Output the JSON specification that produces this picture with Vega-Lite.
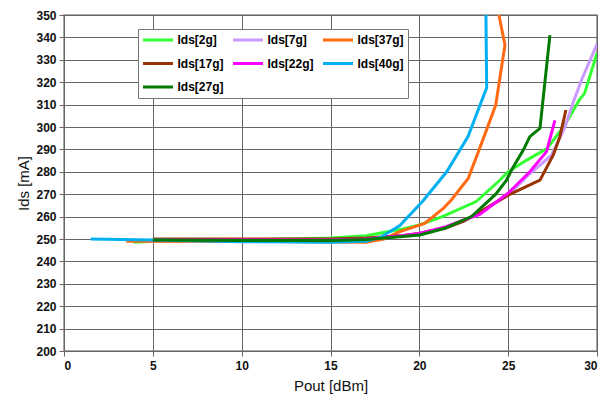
{
  "$schema": "https://vega.github.io/schema/vega-lite/v6.json",
  "width": 533,
  "height": 336,
  "autosize": {"type": "none"},
  "padding": {"left": 64, "top": 15, "right": 16, "bottom": 55},
  "background": "white",
  "config": {
    "font": "Liberation Sans",
    "view": {"stroke": "#8c8c8c", "strokeWidth": 1.5},
    "axis": {
      "gridColor": "#666666",
      "gridWidth": 1,
      "gridOpacity": 1,
      "domainColor": "#666666",
      "tickColor": "#666666",
      "tickSize": 5,
      "labelFont": "Liberation Sans",
      "labelFontWeight": "bold",
      "labelFontSize": 12,
      "labelColor": "#111",
      "titleFont": "Liberation Sans",
      "titleFontWeight": "normal",
      "titleFontSize": 15,
      "titleColor": "#111"
    }
  },
  "data": {
    "values": [
      {"s": "Ids[2g]", "i": 0, "x": 3.9, "y": 248.5},
      {"s": "Ids[2g]", "i": 1, "x": 5, "y": 249},
      {"s": "Ids[2g]", "i": 2, "x": 10, "y": 249.5},
      {"s": "Ids[2g]", "i": 3, "x": 15, "y": 250.5},
      {"s": "Ids[2g]", "i": 4, "x": 17, "y": 251.5},
      {"s": "Ids[2g]", "i": 5, "x": 18.9, "y": 254.2},
      {"s": "Ids[2g]", "i": 6, "x": 20, "y": 256.3},
      {"s": "Ids[2g]", "i": 7, "x": 21.3, "y": 260},
      {"s": "Ids[2g]", "i": 8, "x": 23.2, "y": 266.7},
      {"s": "Ids[2g]", "i": 9, "x": 24.5, "y": 276},
      {"s": "Ids[2g]", "i": 10, "x": 25, "y": 280},
      {"s": "Ids[2g]", "i": 11, "x": 26, "y": 285},
      {"s": "Ids[2g]", "i": 12, "x": 27.2, "y": 290.5},
      {"s": "Ids[2g]", "i": 13, "x": 28.2, "y": 301},
      {"s": "Ids[2g]", "i": 14, "x": 29, "y": 312},
      {"s": "Ids[2g]", "i": 15, "x": 29.3, "y": 315},
      {"s": "Ids[2g]", "i": 16, "x": 30, "y": 333},

      {"s": "Ids[7g]", "i": 0, "x": 4.7, "y": 249},
      {"s": "Ids[7g]", "i": 1, "x": 5, "y": 249},
      {"s": "Ids[7g]", "i": 2, "x": 10, "y": 249},
      {"s": "Ids[7g]", "i": 3, "x": 15, "y": 249.3},
      {"s": "Ids[7g]", "i": 4, "x": 17, "y": 250},
      {"s": "Ids[7g]", "i": 5, "x": 19, "y": 251.5},
      {"s": "Ids[7g]", "i": 6, "x": 20, "y": 252.5},
      {"s": "Ids[7g]", "i": 7, "x": 21.5, "y": 255},
      {"s": "Ids[7g]", "i": 8, "x": 22.5, "y": 258},
      {"s": "Ids[7g]", "i": 9, "x": 23.4, "y": 262},
      {"s": "Ids[7g]", "i": 10, "x": 25, "y": 269.6},
      {"s": "Ids[7g]", "i": 11, "x": 26.2, "y": 279},
      {"s": "Ids[7g]", "i": 12, "x": 27.45, "y": 287.5},
      {"s": "Ids[7g]", "i": 13, "x": 28.2, "y": 300},
      {"s": "Ids[7g]", "i": 14, "x": 28.64, "y": 310.6},
      {"s": "Ids[7g]", "i": 15, "x": 29.13, "y": 321},
      {"s": "Ids[7g]", "i": 16, "x": 30, "y": 337},

      {"s": "Ids[37g]", "i": 0, "x": 3.5, "y": 249},
      {"s": "Ids[37g]", "i": 1, "x": 5, "y": 249},
      {"s": "Ids[37g]", "i": 2, "x": 10, "y": 249},
      {"s": "Ids[37g]", "i": 3, "x": 15, "y": 248.7},
      {"s": "Ids[37g]", "i": 4, "x": 17, "y": 248.5},
      {"s": "Ids[37g]", "i": 5, "x": 18, "y": 250},
      {"s": "Ids[37g]", "i": 6, "x": 18.9, "y": 253.3},
      {"s": "Ids[37g]", "i": 7, "x": 20.3, "y": 257},
      {"s": "Ids[37g]", "i": 8, "x": 21.35, "y": 263.7},
      {"s": "Ids[37g]", "i": 9, "x": 21.8, "y": 267.4},
      {"s": "Ids[37g]", "i": 10, "x": 22.75, "y": 277},
      {"s": "Ids[37g]", "i": 11, "x": 23.5, "y": 292.7},
      {"s": "Ids[37g]", "i": 12, "x": 24.3, "y": 309.8},
      {"s": "Ids[37g]", "i": 13, "x": 24.82, "y": 336.6},
      {"s": "Ids[37g]", "i": 14, "x": 24.3, "y": 357},

      {"s": "Ids[17g]", "i": 0, "x": 5, "y": 250},
      {"s": "Ids[17g]", "i": 1, "x": 10, "y": 250},
      {"s": "Ids[17g]", "i": 2, "x": 15, "y": 250},
      {"s": "Ids[17g]", "i": 3, "x": 17, "y": 250.5},
      {"s": "Ids[17g]", "i": 4, "x": 19, "y": 251.5},
      {"s": "Ids[17g]", "i": 5, "x": 20, "y": 252.5},
      {"s": "Ids[17g]", "i": 6, "x": 21.5, "y": 255},
      {"s": "Ids[17g]", "i": 7, "x": 22.5, "y": 258},
      {"s": "Ids[17g]", "i": 8, "x": 23.4, "y": 262},
      {"s": "Ids[17g]", "i": 9, "x": 25, "y": 269.6},
      {"s": "Ids[17g]", "i": 10, "x": 26.79, "y": 276.3},
      {"s": "Ids[17g]", "i": 11, "x": 27.54, "y": 287.5},
      {"s": "Ids[17g]", "i": 12, "x": 27.91, "y": 295.7},
      {"s": "Ids[17g]", "i": 13, "x": 28.25, "y": 307.6},

      {"s": "Ids[22g]", "i": 0, "x": 5, "y": 249.5},
      {"s": "Ids[22g]", "i": 1, "x": 10, "y": 249.5},
      {"s": "Ids[22g]", "i": 2, "x": 15, "y": 249.5},
      {"s": "Ids[22g]", "i": 3, "x": 17, "y": 250},
      {"s": "Ids[22g]", "i": 4, "x": 19, "y": 251.5},
      {"s": "Ids[22g]", "i": 5, "x": 20, "y": 252.5},
      {"s": "Ids[22g]", "i": 6, "x": 21.5, "y": 255.5},
      {"s": "Ids[22g]", "i": 7, "x": 22.5, "y": 258.5},
      {"s": "Ids[22g]", "i": 8, "x": 23.4, "y": 261},
      {"s": "Ids[22g]", "i": 9, "x": 24.99, "y": 270.4},
      {"s": "Ids[22g]", "i": 10, "x": 26.22, "y": 280},
      {"s": "Ids[22g]", "i": 11, "x": 27.16, "y": 289},
      {"s": "Ids[22g]", "i": 12, "x": 27.63, "y": 303},

      {"s": "Ids[40g]", "i": 0, "x": 1.5, "y": 250},
      {"s": "Ids[40g]", "i": 1, "x": 3.2, "y": 249.8},
      {"s": "Ids[40g]", "i": 2, "x": 5, "y": 249.5},
      {"s": "Ids[40g]", "i": 3, "x": 10, "y": 248.8},
      {"s": "Ids[40g]", "i": 4, "x": 15, "y": 248.5},
      {"s": "Ids[40g]", "i": 5, "x": 17, "y": 249},
      {"s": "Ids[40g]", "i": 6, "x": 17.8, "y": 250.7},
      {"s": "Ids[40g]", "i": 7, "x": 18.9, "y": 256},
      {"s": "Ids[40g]", "i": 8, "x": 20.2, "y": 267},
      {"s": "Ids[40g]", "i": 9, "x": 21.54, "y": 280},
      {"s": "Ids[40g]", "i": 10, "x": 22.74, "y": 295.7},
      {"s": "Ids[40g]", "i": 11, "x": 23.79, "y": 317.5},
      {"s": "Ids[40g]", "i": 12, "x": 23.73, "y": 365},

      {"s": "Ids[27g]", "i": 0, "x": 5, "y": 249.5},
      {"s": "Ids[27g]", "i": 1, "x": 10, "y": 249.3},
      {"s": "Ids[27g]", "i": 2, "x": 15, "y": 249.3},
      {"s": "Ids[27g]", "i": 3, "x": 17, "y": 249.8},
      {"s": "Ids[27g]", "i": 4, "x": 18.9, "y": 251},
      {"s": "Ids[27g]", "i": 5, "x": 20.03, "y": 251.8},
      {"s": "Ids[27g]", "i": 6, "x": 21.44, "y": 254.8},
      {"s": "Ids[27g]", "i": 7, "x": 22.94, "y": 260},
      {"s": "Ids[27g]", "i": 8, "x": 24.3, "y": 270},
      {"s": "Ids[27g]", "i": 9, "x": 24.91, "y": 276.3},
      {"s": "Ids[27g]", "i": 10, "x": 25.19, "y": 280.8},
      {"s": "Ids[27g]", "i": 11, "x": 25.85, "y": 289.7},
      {"s": "Ids[27g]", "i": 12, "x": 26.22, "y": 295.7},
      {"s": "Ids[27g]", "i": 13, "x": 26.79, "y": 299.4},
      {"s": "Ids[27g]", "i": 14, "x": 27.35, "y": 341}
    ]
  },
  "mark": {"type": "line", "strokeWidth": 3, "clip": true},
  "encoding": {
    "x": {
      "field": "x", "type": "quantitative",
      "scale": {"domain": [0, 30], "nice": false, "zero": false},
      "axis": {"values": [0, 5, 10, 15, 20, 25, 30], "title": "Pout [dBm]", "titlePadding": 7, "labelPadding": 4}
    },
    "y": {
      "field": "y", "type": "quantitative",
      "scale": {"domain": [200, 350], "nice": false, "zero": false},
      "axis": {"values": [200, 210, 220, 230, 240, 250, 260, 270, 280, 290, 300, 310, 320, 330, 340, 350], "title": "Ids [mA]", "titlePadding": 4, "labelPadding": 3}
    },
    "color": {
      "field": "s", "type": "nominal",
      "scale": {
        "domain": ["Ids[2g]", "Ids[7g]", "Ids[37g]", "Ids[17g]", "Ids[22g]", "Ids[40g]", "Ids[27g]"],
        "range": ["#33ff33", "#cc99ff", "#ff6a13", "#993300", "#ff00ff", "#00b0f0", "#007a00"]
      },
      "legend": {
        "title": null,
        "orient": "none",
        "direction": "horizontal",
        "legendX": 74,
        "legendY": 14,
        "columns": 3,
        "gridAlign": "all",
        "columnPadding": 7,
        "rowPadding": 8.5,
        "padding": 3.5,
        "clipHeight": 15,
        "fillColor": "white",
        "strokeColor": "#777",
        "symbolType": "stroke",
        "symbolSize": 900,
        "symbolStrokeWidth": 3,
        "labelFont": "Liberation Sans",
        "labelFontWeight": "bold",
        "labelFontSize": 12,
        "labelColor": "#000",
        "labelOffset": 3
      }
    },
    "order": {"field": "i", "type": "quantitative"}
  }
}
